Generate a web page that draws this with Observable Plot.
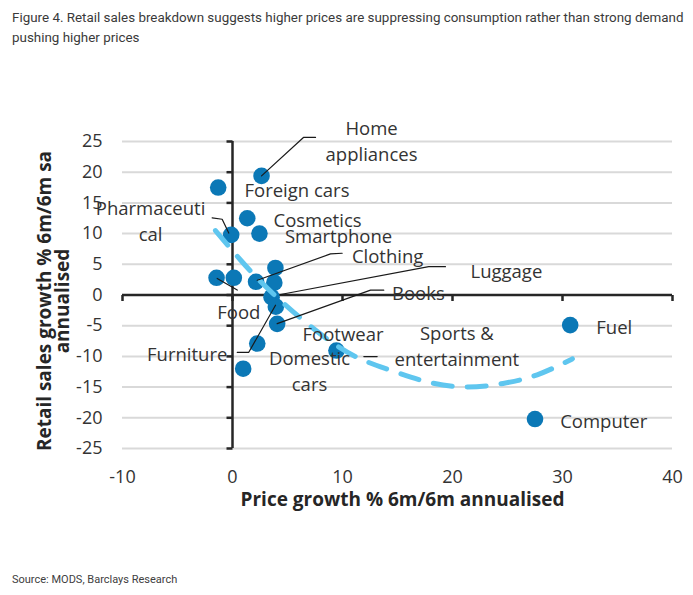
<!DOCTYPE html>
<html><head><meta charset="utf-8">
<script src="https://cdn.jsdelivr.net/npm/d3@7"></script>
<script src="https://cdn.jsdelivr.net/npm/@observablehq/plot@0.6"></script>
<style>
body{margin:0;background:#fff;width:693px;height:595px;position:relative;overflow:hidden;font-family:Roboto,sans-serif}
#title{position:absolute;left:12px;top:8px;font-size:13.4px;line-height:20px;color:#3a3a3a;white-space:nowrap}
#chart{position:absolute;left:0;top:50px}
#caption{position:absolute;left:12px;top:573px;font-size:11px;color:#404040}
</style></head><body>
<div id="title">Figure 4. Retail sales breakdown suggests higher prices are suppressing consumption rather than strong demand<br>pushing higher prices</div>
<div id="chart"></div>
<div id="caption">Source: MODS, Barclays Research</div>
<script>
// Scatter points: price growth (x) vs retail sales growth (y)
const priceGrowth = [2.64, -1.30, 1.34, -0.12, 2.45, 3.9, -1.45, 0.12, 2.14, 3.8, 3.55, 3.94, 4.06, 2.25, 9.45, 0.97, 30.7, 27.5];
const salesGrowth = [19.4, 17.5, 12.5, 9.8, 10.0, 4.4, 2.8, 2.8, 2.15, 2.0, -0.35, -1.9, -4.7, -7.9, -9.05, -12.0, -4.9, -20.2];

// Data labels
const labelText = ["Home\nappliances", "Foreign cars", "Pharmaceuti\ncal", "Cosmetics", "Smartphone", "Clothing", "Luggage", "Books", "Food", "Footwear", "Furniture", "Domestic\ncars", "Sports &\nentertainment", "Fuel", "Computer"];
const labelX = [12.64, 5.86, -7.45, 7.73, 9.64, 14.1, 24.9, 16.9, 0.57, 10.05, -4.12, 7.0, 20.4, 34.7, 33.75];
const labelY = [25.3, 17.3, 12.3, 12.4, 9.8, 6.6, 4.1, 0.6, -2.5, -6.1, -9.4, -12.2, -8.05, -5.05, -20.25];

// Leader lines (label -> point)
const leaderId = ["Home appliances","Home appliances","Home appliances","Pharmaceutical","Pharmaceutical","Pharmaceutical","Clothing","Clothing","Clothing","Luggage","Luggage","Luggage","Books","Books","Books","Food","Food","Furniture","Furniture","Furniture","Sports","Sports"];
const leaderX = [2.64, 6.45, 7.55, -1.85, -0.94, -0.34, 9.97, 8.91, 2.25, 19.36, 17.84, 4.36, 13.75, 12.55, 4.06, -1.39, 0.43, 0.43, 1.48, 3.91, 11.94, 13.15];
const leaderY = [19.4, 25.66, 25.66, 12.55, 12.34, 10.08, 6.8, 6.69, 2.41, 4.62, 4.62, 0.08, 0.79, 0.79, -4.67, 2.7, 0.8, -9.33, -9.33, -1.67, -10.03, -10.03];

// Trend line
const trendX = [-1.55, 0.73, 4.0, 9.6, 14.1, 17.6, 21.2, 24.6, 27.7, 30.9];
const trendY = [10.5, 5.7, -0.3, -8.4, -12.1, -14.1, -15.0, -14.4, -13.0, -10.4];

// Axis ticks
const xTicks = [-10, 0, 10, 20, 30, 40];
const yTicks = [-25, -20, -15, -10, -5, 0, 5, 10, 15, 20, 25];

const points = priceGrowth.map((x, i) => ({x, y: salesGrowth[i]}));
const labels = labelText.map((t, i) => ({t, x: labelX[i], y: labelY[i]}));
const leaders = leaderId.map((id, i) => ({id, x: leaderX[i], y: leaderY[i]}));
const trend = trendX.map((x, i) => ({x, y: trendY[i]}));

const tickLeft = {draw(c) { c.moveTo(0, 0); c.lineTo(-6, 0); }};
const tickDown = {draw(c) { c.moveTo(0, 0); c.lineTo(0, 6); }};
const axisColor = "#262626";

const chart = Plot.plot({
  width: 693,
  height: 480,
  marginLeft: 122,
  marginRight: 21,
  marginTop: 91,
  marginBottom: 82,
  style: {fontFamily: "'Open Sans', sans-serif", fontSize: "18px", color: "#333", background: "white"},
  x: {domain: [-10, 40]},
  y: {domain: [-25, 25]},
  marks: [
    Plot.ruleY(yTicks, {stroke: "#d9d9d9", strokeWidth: 2}),
    Plot.axisX({ticks: xTicks, tickSize: 0, tickPadding: 22, tickFormat: d => String(d), fontSize: 18, label: null}),
    Plot.axisY({ticks: yTicks, tickSize: 0, tickPadding: 20, tickFormat: d => String(d), fontSize: 18, label: null}),
    Plot.ruleX([0], {stroke: axisColor, strokeWidth: 2.5}),
    Plot.ruleY([0], {stroke: axisColor, strokeWidth: 2.5}),
    Plot.dot(yTicks, {x: () => 0, y: d => d, symbol: tickLeft, stroke: axisColor, strokeWidth: 2.5, fill: "none", r: 3}),
    Plot.dot(xTicks, {x: d => d, y: () => 0, symbol: tickDown, stroke: axisColor, strokeWidth: 2.5, fill: "none", r: 3}),
    Plot.dot(points, {x: "x", y: "y", r: 8.3, fill: "#0b78b6", stroke: "none"}),
    Plot.line(trend, {x: "x", y: "y", curve: "natural", stroke: "#5fc6ef", strokeWidth: 5, strokeDasharray: "19,15"}),
    Plot.line(leaders, {x: "x", y: "y", z: "id", stroke: "#1a1a1a", strokeWidth: 1.2}),
    Plot.text(labels, {x: "x", y: "y", text: "t", fontSize: 18.5, lineHeight: 1.4, fill: "#333"}),
    Plot.text(["Price growth % 6m/6m annualised"], {text: d => d, frameAnchor: "bottom", textAnchor: "middle", lineAnchor: "middle", dx: 5, dy: 51, fontWeight: "bold", fontSize: 19, fill: "#262626"}),
    Plot.text(["Retail sales growth % 6m/6m sa\nannualised"], {text: d => d, frameAnchor: "left", textAnchor: "middle", lineAnchor: "middle", rotate: -90, dx: -68, dy: 6, lineHeight: 0.9, fontWeight: "bold", fontSize: 19, fill: "#262626"})
  ]
});
document.getElementById("chart").appendChild(chart);
</script>
</body></html>
